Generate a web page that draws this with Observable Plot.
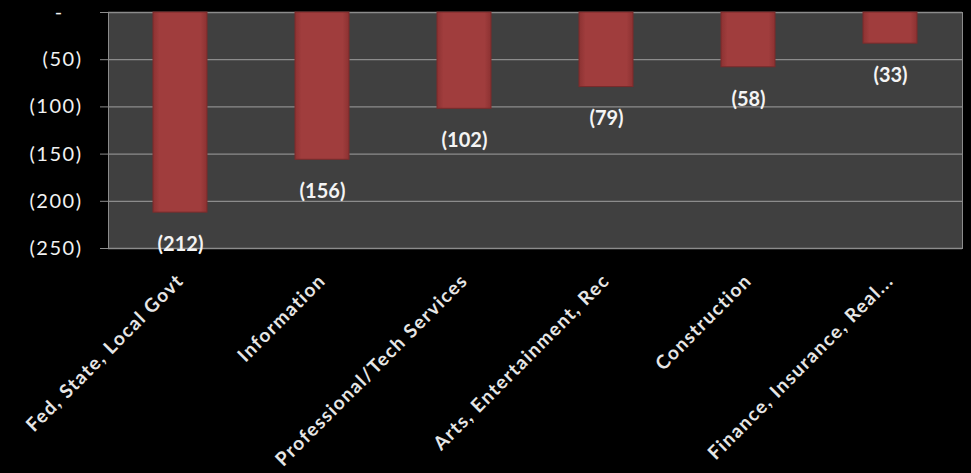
<!DOCTYPE html>
<html>
<head>
<meta charset="utf-8">
<script src="https://cdn.jsdelivr.net/npm/d3@7"></script>
<script src="https://cdn.jsdelivr.net/npm/@observablehq/plot@0.6"></script>
<style>
  html, body { margin: 0; padding: 0; background: #000; }
  #chart { width: 971px; height: 473px; }
</style>
</head>
<body>
<div id="chart"></div>
<script>
const categories = ["Fed, State, Local Govt", "Information", "Professional/Tech Services", "Arts, Entertainment, Rec", "Construction", "Finance, Insurance, Real..."];
const values = [-212, -156, -102, -79, -58, -33];
const yTicks = [0, -50, -100, -150, -200, -250];

const data = categories.map((c, i) => ({category: c, value: values[i]}));
const fmt = d => d === 0 ? "-" : `(${Math.abs(d)})`;
const axisFmt = d => d === 0 ? "-\u2007\u2008" : `(${Math.abs(d)})`;

const plot = Plot.plot({
  width: 971,
  height: 473,
  marginLeft: 108,
  marginRight: 9,
  marginTop: 12,
  marginBottom: 225,
  style: {background: "#000", color: "#eee", fontFamily: "Lato, 'Open Sans', sans-serif"},
  x: {domain: categories, paddingInner: 0.62, paddingOuter: 0.31, label: null},
  y: {domain: [-250, 0], label: null},
  marks: [
    Plot.frame({fill: "#404040", stroke: "#8c8c8c"}),
    Plot.gridY(yTicks, {stroke: "#8c8c8c", strokeOpacity: 1, strokeWidth: 1.3}),
    Plot.barY(data, {x: "category", y: "value", fill: "url(#barGrad)", stroke: "#7a2b2b", strokeWidth: 1}),
    Plot.text(data, {x: "category", y: "value", text: d => fmt(d.value), dy: 32, fill: "#f4f4f4", fontSize: 20, fontWeight: "bold", ariaLabel: "value label"}),
    Plot.axisY(yTicks, {tickFormat: axisFmt, tickSize: 8, tickPadding: 18, stroke: "#8c8c8c", fill: "#f2f2f2", fontSize: 20, label: null}),
    Plot.axisX({anchor: "bottom", tickSize: 0, tickPadding: 29, tickRotate: -45, fontSize: 19, fontWeight: "bold", fill: "#e6e6e6", label: null})
  ]
});

const svg = d3.select(plot);
const defs = svg.insert("defs", ":first-child");
const g = defs.append("linearGradient").attr("id", "barGrad").attr("x1", 0).attr("x2", 1).attr("y1", 0).attr("y2", 0);
g.append("stop").attr("offset", "0%").attr("stop-color", "#8c3232");
g.append("stop").attr("offset", "12%").attr("stop-color", "#a03d3d");
g.append("stop").attr("offset", "88%").attr("stop-color", "#a03d3d");
g.append("stop").attr("offset", "100%").attr("stop-color", "#8c3232");

svg.selectAll('g[aria-label="value label"] text').attr("letter-spacing", "2px");
svg.selectAll('g[aria-label="y-axis tick label"] text').attr("letter-spacing", "1.5px");
svg.selectAll('g[aria-label="x-axis tick label"] text').attr("letter-spacing", "1.4px");

document.getElementById("chart").appendChild(plot);
</script>
</body>
</html>
